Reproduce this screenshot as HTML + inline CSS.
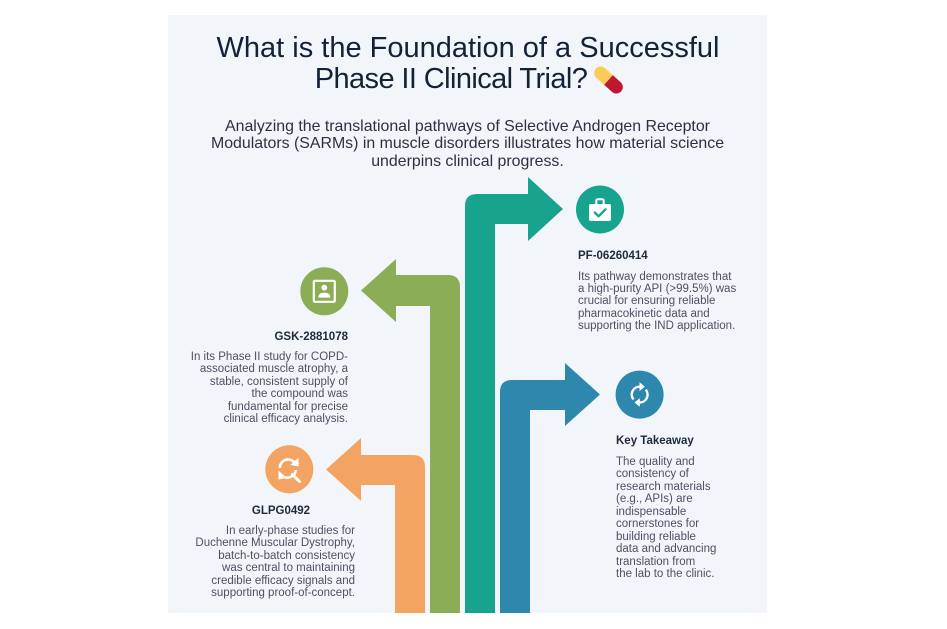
<!DOCTYPE html>
<html>
<head>
<meta charset="utf-8">
<style>
  html,body{margin:0;padding:0;background:#ffffff;}
  body{width:947px;height:629px;position:relative;overflow:hidden;font-family:"Liberation Sans",Arial,sans-serif;}
  .panel{position:absolute;left:168px;top:15px;width:599px;height:598px;background:#f2f6fa;}
  svg.main{position:absolute;left:0;top:0;}
  .title{position:absolute;left:0;width:936px;text-align:center;font-size:29px;line-height:31px;color:#132238;white-space:nowrap;}
  .sub{position:absolute;left:0;width:935px;top:117.5px;text-align:center;font-size:15.9px;line-height:17.5px;color:#2b3140;white-space:nowrap;}
  .h{position:absolute;font-weight:bold;font-size:11.5px;line-height:14px;color:#1e2a3b;white-space:nowrap;}
  .b{position:absolute;font-size:11.5px;line-height:12.5px;color:#4a5163;white-space:nowrap;}
  .r{text-align:right;}
</style>
</head>
<body>
<div class="panel"></div>

<svg class="main" width="947" height="629" viewBox="0 0 947 629" xmlns="http://www.w3.org/2000/svg">
  <!-- Orange arrow (left) -->
  <path d="M425,613 L425,467 Q425,455 413,455 L361,455 L361,438 L326,469.5 L361,501 L361,485 L395,485 L395,613 Z" fill="#f3a462"/>
  <!-- Green arrow (left) -->
  <path d="M460,613 L460,287 Q460,275 448,275 L396,275 L396,259 L361,290.5 L396,322 L396,306 L430,306 L430,613 Z" fill="#8bad55"/>
  <!-- Teal arrow (right) -->
  <path d="M465,613 L465,206 Q465,194 477,194 L528,194 L528,177 L563,209 L528,241 L528,224 L495,224 L495,613 Z" fill="#18a38f"/>
  <!-- Blue arrow (right) -->
  <path d="M500,613 L500,392 Q500,380 512,380 L565,380 L565,363 L600,394.5 L565,426 L565,410 L530,410 L530,613 Z" fill="#2e88ad"/>

  <!-- Green circle + portrait icon -->
  <circle cx="324.3" cy="291.3" r="24" fill="#8bad55"/>
  <rect x="313.8" y="280.8" width="21" height="21" rx="1" fill="none" stroke="#ffffff" stroke-width="2.2"/>
  <circle cx="324.3" cy="287.6" r="2.9" fill="#ffffff"/>
  <path d="M318.3,297.6 Q318.3,292.6 324.3,292.6 Q330.3,292.6 330.3,297.6 Z" fill="#ffffff"/>

  <!-- Orange circle + refresh/search icon -->
  <circle cx="289.3" cy="469.3" r="24" fill="#f3a462"/>
  <path d="M279.8,468 A8.3,8.3 0 0 1 294.5,462.5" fill="none" stroke="#ffffff" stroke-width="2.6"/>
  <polygon points="298.5,457.5 298.8,466.5 290.5,465" fill="#ffffff"/>
  <path d="M295.8,470 A8.3,8.3 0 0 1 281.5,475" fill="none" stroke="#ffffff" stroke-width="2.6"/>
  <polygon points="278.5,470.5 278.5,479.5 286.5,478" fill="#ffffff"/>
  <line x1="292.5" y1="474.5" x2="299.5" y2="481.5" stroke="#ffffff" stroke-width="3" stroke-linecap="round"/>

  <!-- Teal circle + briefcase icon -->
  <circle cx="600" cy="209.5" r="24" fill="#18a38f"/>
  <rect x="596.3" y="199.3" width="7.4" height="6" rx="1.5" fill="none" stroke="#ffffff" stroke-width="2"/>
  <rect x="589" y="204" width="22" height="17" rx="2" fill="#ffffff"/>
  <polyline points="594.8,212.5 598.6,216.3 605.5,209.3" fill="none" stroke="#18a38f" stroke-width="2.3" stroke-linecap="round" stroke-linejoin="round"/>

  <!-- Blue circle + sync icon -->
  <circle cx="639.6" cy="394.6" r="24" fill="#2e88ad"/>
  <path d="M633.5,399.5 A7.8,7.8 0 0 1 640.5,386.8" fill="none" stroke="#ffffff" stroke-width="2.4"/>
  <polygon points="639.5,382.3 644.8,386.8 639.5,391" fill="#ffffff"/>
  <path d="M645.8,389.7 A7.8,7.8 0 0 1 638.8,402.4" fill="none" stroke="#ffffff" stroke-width="2.4"/>
  <polygon points="639.8,398.2 634.5,402.4 639.8,406.8" fill="#ffffff"/>

  <!-- Pill -->
  <g transform="rotate(42 608.5 80)">
    <path d="M591.5,80 A6.5,6.5 0 0 1 598,73.5 L608.5,73.5 L608.5,86.5 L598,86.5 A6.5,6.5 0 0 1 591.5,80 Z" fill="#fdcb58"/>
    <path d="M608.5,73.5 L619,73.5 A6.5,6.5 0 0 1 619,86.5 L608.5,86.5 Z" fill="#be1931"/>
  </g>
</svg>

<div class="title" style="top:33px;">What is the Foundation of a Successful</div>
<div class="title" style="top:64px;width:902px;letter-spacing:-0.6px;">Phase II Clinical Trial?</div>

<div class="sub">Analyzing the translational pathways of Selective Androgen Receptor<br>Modulators (SARMs) in muscle disorders illustrates how material science<br>underpins clinical progress.</div>

<!-- GSK -->
<div class="h r" style="right:599px;top:330px;">GSK-2881078</div>
<div class="b r" style="right:599px;top:350.8px;">In its Phase II study for COPD-<br>associated muscle atrophy, a<br>stable, consistent supply of<br>the compound was<br>fundamental for precise<br>clinical efficacy analysis.</div>

<!-- GLPG -->
<div class="h" style="left:231px;width:100px;text-align:center;top:504px;">GLPG0492</div>
<div class="b r" style="right:592px;top:524.8px;">In early-phase studies for<br>Duchenne Muscular Dystrophy,<br>batch-to-batch consistency<br>was central to maintaining<br>credible efficacy signals and<br>supporting proof-of-concept.</div>

<!-- PF -->
<div class="h" style="left:578px;top:249px;">PF-06260414</div>
<div class="b" style="left:578px;top:270.8px;line-height:12.3px;">Its pathway demonstrates that<br>a high-purity API (&gt;99.5%) was<br>crucial for ensuring reliable<br>pharmacokinetic data and<br>supporting the IND application.</div>

<!-- Key Takeaway -->
<div class="h" style="left:616px;top:434px;">Key Takeaway</div>
<div class="b" style="left:616px;top:455.8px;">The quality and<br>consistency of<br>research materials<br>(e.g., APIs) are<br>indispensable<br>cornerstones for<br>building reliable<br>data and advancing<br>translation from<br>the lab to the clinic.</div>

</body>
</html>
